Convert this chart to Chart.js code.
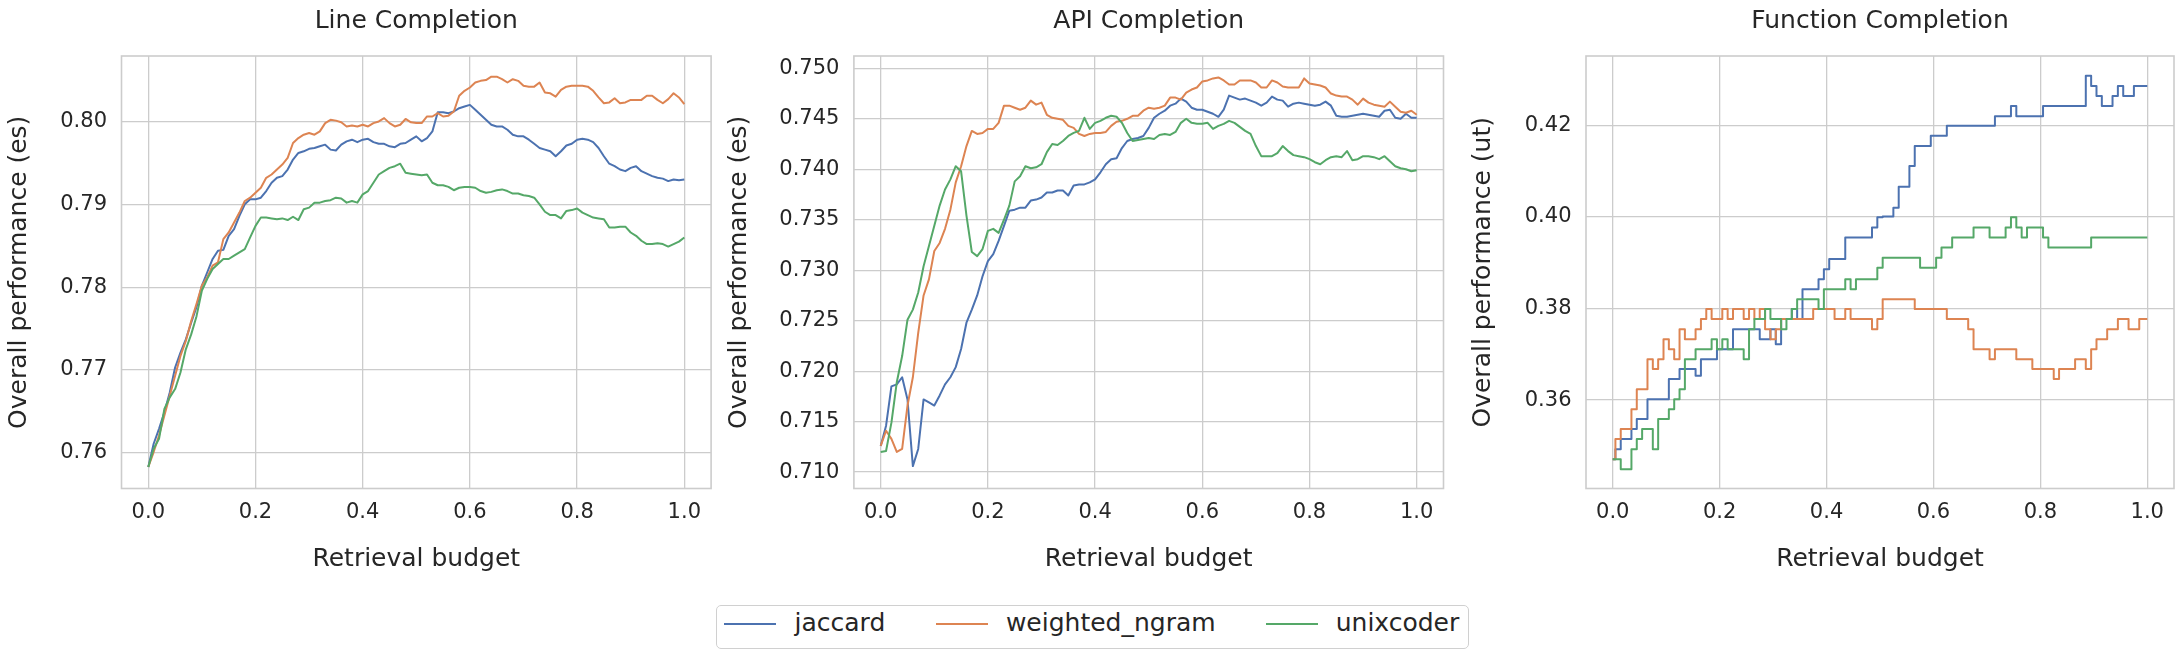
<!DOCTYPE html>
<html>
<head>
<meta charset="utf-8">
<title>Retrieval budget vs overall performance</title>
<script src="https://cdn.jsdelivr.net/npm/chart.js@4.4.1/dist/chart.umd.min.js"></script>
<style>
  html, body { margin: 0; padding: 0; background: #ffffff; }
  #figure { position: relative; width: 2184px; height: 659px; overflow: hidden; background: #ffffff; }
  #figure canvas { position: absolute; left: 0; top: 0; }
  #legend {
    position: absolute; left: 715.5px; top: 605px; width: 753px; height: 44px;
    box-sizing: border-box; border: 1px solid #d0d0d0; border-radius: 5px; background: #ffffff;
    font-family: 'DejaVu Sans', sans-serif; font-size: 25px; color: #262626;
  }
  #legend .swatch { position: absolute; top: 17px; width: 52px; height: 2px; }
  #legend .label { position: absolute; top: 2px; line-height: 30px; white-space: nowrap; }
</style>
</head>
<body>
<div id="figure">
  <canvas id="lineCanvas" width="2184" height="659"></canvas>
  <canvas id="apiCanvas" width="2184" height="659"></canvas>
  <canvas id="funcCanvas" width="2184" height="659"></canvas>
  <div id="legend"></div>
</div>
<script>
// Retrieval budget (x axis), one point every 0.01
var budget = [
  0.00, 0.01, 0.02, 0.03, 0.04, 0.05, 0.06, 0.07, 0.08, 0.09,
  0.10, 0.11, 0.12, 0.13, 0.14, 0.15, 0.16, 0.17, 0.18, 0.19,
  0.20, 0.21, 0.22, 0.23, 0.24, 0.25, 0.26, 0.27, 0.28, 0.29,
  0.30, 0.31, 0.32, 0.33, 0.34, 0.35, 0.36, 0.37, 0.38, 0.39,
  0.40, 0.41, 0.42, 0.43, 0.44, 0.45, 0.46, 0.47, 0.48, 0.49,
  0.50, 0.51, 0.52, 0.53, 0.54, 0.55, 0.56, 0.57, 0.58, 0.59,
  0.60, 0.61, 0.62, 0.63, 0.64, 0.65, 0.66, 0.67, 0.68, 0.69,
  0.70, 0.71, 0.72, 0.73, 0.74, 0.75, 0.76, 0.77, 0.78, 0.79,
  0.80, 0.81, 0.82, 0.83, 0.84, 0.85, 0.86, 0.87, 0.88, 0.89,
  0.90, 0.91, 0.92, 0.93, 0.94, 0.95, 0.96, 0.97, 0.98, 0.99,
  1.00
];

var methods = ["jaccard", "weighted_ngram", "unixcoder"];

// Line Completion (es)
var lineJaccard = [
  0.7583, 0.7611, 0.7629, 0.7649, 0.7673, 0.7703, 0.7721, 0.7737, 0.7757, 0.7776,
  0.7802, 0.7818, 0.7834, 0.7844, 0.7845, 0.7862, 0.7870, 0.7886, 0.7900, 0.7906,
  0.7906, 0.7908, 0.7916, 0.7926, 0.7932, 0.7934, 0.7942, 0.7954, 0.7962, 0.7964,
  0.7967, 0.7968, 0.7970, 0.7972, 0.7966, 0.7965, 0.7972, 0.7976, 0.7978, 0.7975,
  0.7978, 0.7979, 0.7975, 0.7973, 0.7973, 0.7970, 0.7969, 0.7973, 0.7974, 0.7978,
  0.7982, 0.7976, 0.7980, 0.7988, 0.8011, 0.8011, 0.8010, 0.8012, 0.8016, 0.8018,
  0.8020, 0.8014, 0.8008, 0.8002, 0.7996, 0.7994, 0.7994, 0.7990, 0.7984, 0.7982,
  0.7982, 0.7978, 0.7973, 0.7968, 0.7966, 0.7964, 0.7958, 0.7964, 0.7971, 0.7973,
  0.7978, 0.7979, 0.7978, 0.7975, 0.7968, 0.7958, 0.7949, 0.7946, 0.7942, 0.7940,
  0.7944, 0.7946, 0.7940, 0.7937, 0.7934, 0.7932, 0.7931, 0.7928, 0.7930, 0.7929,
  0.7930
];
var lineNgram = [
  0.7583, 0.7601, 0.7621, 0.7645, 0.7669, 0.7693, 0.7717, 0.7735, 0.7759, 0.7780,
  0.7802, 0.7812, 0.7826, 0.7830, 0.7858, 0.7866, 0.7878, 0.7890, 0.7904, 0.7908,
  0.7914, 0.7920, 0.7932, 0.7936, 0.7942, 0.7948, 0.7956, 0.7974, 0.7980, 0.7984,
  0.7986, 0.7984, 0.7988, 0.7998, 0.8002, 0.8001, 0.7999, 0.7994, 0.7995, 0.7994,
  0.7996, 0.7994, 0.7998, 0.8000, 0.8004, 0.7998, 0.7994, 0.7996, 0.8003, 0.7999,
  0.7998, 0.7998, 0.8006, 0.8006, 0.8010, 0.8006, 0.8007, 0.8012, 0.8031, 0.8037,
  0.8041, 0.8047, 0.8049, 0.8050, 0.8054, 0.8054, 0.8051, 0.8047, 0.8051, 0.8049,
  0.8043, 0.8042, 0.8042, 0.8047, 0.8035, 0.8034, 0.8030, 0.8038, 0.8042, 0.8043,
  0.8043, 0.8043, 0.8042, 0.8037, 0.8029, 0.8022, 0.8023, 0.8028, 0.8022, 0.8023,
  0.8026, 0.8026, 0.8026, 0.8031, 0.8031, 0.8026, 0.8022, 0.8027, 0.8034, 0.8029,
  0.8021
];
var lineUnix = [
  0.7583, 0.7605, 0.7617, 0.7653, 0.7667, 0.7677, 0.7697, 0.7725, 0.7743, 0.7765,
  0.7796, 0.7810, 0.7822, 0.7828, 0.7834, 0.7834, 0.7838, 0.7842, 0.7846, 0.7860,
  0.7874, 0.7884, 0.7884, 0.7883, 0.7882, 0.7883, 0.7881, 0.7885, 0.7881, 0.7894,
  0.7896, 0.7902, 0.7902, 0.7904, 0.7905, 0.7908, 0.7907, 0.7902, 0.7904, 0.7902,
  0.7912, 0.7916, 0.7926, 0.7936, 0.7940, 0.7944, 0.7946, 0.7949, 0.7938, 0.7937,
  0.7936, 0.7935, 0.7936, 0.7926, 0.7923, 0.7923, 0.7921, 0.7917, 0.7920, 0.7921,
  0.7921, 0.7920, 0.7916, 0.7914, 0.7915, 0.7917, 0.7918, 0.7916, 0.7913, 0.7913,
  0.7911, 0.7910, 0.7908, 0.7900, 0.7891, 0.7887, 0.7887, 0.7883, 0.7892, 0.7893,
  0.7895, 0.7890, 0.7887, 0.7884, 0.7883, 0.7882, 0.7872, 0.7872, 0.7873, 0.7873,
  0.7866, 0.7862, 0.7856, 0.7852, 0.7852, 0.7853, 0.7852, 0.7849, 0.7852, 0.7855,
  0.7860
];

// API Completion (es)
var apiJaccard = [
  0.7126, 0.7146, 0.7185, 0.7187, 0.7194, 0.7172, 0.7106, 0.7123, 0.7172, 0.7169,
  0.7166, 0.7176, 0.7187, 0.7194, 0.7204, 0.7222, 0.7248, 0.7261, 0.7275, 0.7294,
  0.7309, 0.7316, 0.7329, 0.7344, 0.7359, 0.7360, 0.7362, 0.7362, 0.7369, 0.7370,
  0.7372, 0.7377, 0.7377, 0.7379, 0.7379, 0.7374, 0.7384, 0.7385, 0.7385, 0.7387,
  0.7390, 0.7397, 0.7405, 0.7410, 0.7411, 0.7421, 0.7428, 0.7430, 0.7431, 0.7433,
  0.7441, 0.7451, 0.7455, 0.7458, 0.7463, 0.7465, 0.7470, 0.7467, 0.7461, 0.7459,
  0.7459, 0.7457, 0.7455, 0.7452, 0.7459, 0.7473, 0.7471, 0.7469, 0.7470, 0.7468,
  0.7466, 0.7463, 0.7466, 0.7472, 0.7469, 0.7468, 0.7462, 0.7465, 0.7466, 0.7465,
  0.7464, 0.7463, 0.7464, 0.7467, 0.7463, 0.7453, 0.7452, 0.7452, 0.7453, 0.7454,
  0.7455, 0.7454, 0.7453, 0.7452, 0.7458, 0.7459, 0.7451, 0.7450, 0.7455, 0.7451,
  0.7451
];
var apiNgram = [
  0.7126, 0.7141, 0.7133, 0.7120, 0.7123, 0.7166, 0.7194, 0.7238, 0.7275, 0.7291,
  0.7319, 0.7327, 0.7341, 0.7360, 0.7387, 0.7403, 0.7423, 0.7438, 0.7435, 0.7436,
  0.7440, 0.7440, 0.7446, 0.7463, 0.7463, 0.7461, 0.7459, 0.7461, 0.7468, 0.7464,
  0.7466, 0.7454, 0.7451, 0.7450, 0.7449, 0.7443, 0.7441, 0.7435, 0.7433, 0.7435,
  0.7436, 0.7436, 0.7437, 0.7443, 0.7447, 0.7448, 0.7450, 0.7453, 0.7453, 0.7458,
  0.7461, 0.7460, 0.7461, 0.7463, 0.7471, 0.7471, 0.7469, 0.7476, 0.7479, 0.7481,
  0.7487, 0.7488, 0.7490, 0.7491, 0.7488, 0.7484, 0.7484, 0.7488, 0.7488, 0.7488,
  0.7486, 0.7481, 0.7481, 0.7488, 0.7486, 0.7482, 0.7481, 0.7481, 0.7481, 0.7490,
  0.7485, 0.7484, 0.7483, 0.7481, 0.7475, 0.7473, 0.7472, 0.7472, 0.7469, 0.7464,
  0.7470, 0.7466, 0.7464, 0.7463, 0.7462, 0.7467, 0.7462, 0.7457, 0.7456, 0.7458,
  0.7454
];
var apiUnix = [
  0.7120, 0.7121, 0.7149, 0.7189, 0.7215, 0.7251, 0.7261, 0.7278, 0.7304, 0.7324,
  0.7344, 0.7364, 0.7380, 0.7390, 0.7403, 0.7398, 0.7354, 0.7318, 0.7314, 0.7321,
  0.7339, 0.7341, 0.7337, 0.7350, 0.7364, 0.7388, 0.7393, 0.7403, 0.7401, 0.7402,
  0.7405, 0.7417, 0.7425, 0.7424, 0.7428, 0.7433, 0.7436, 0.7438, 0.7451, 0.7440,
  0.7446, 0.7448, 0.7451, 0.7453, 0.7452, 0.7446, 0.7436, 0.7428, 0.7429, 0.7430,
  0.7431, 0.7430, 0.7434, 0.7435, 0.7434, 0.7437, 0.7446, 0.7450, 0.7446, 0.7445,
  0.7445, 0.7446, 0.7440, 0.7443, 0.7445, 0.7448, 0.7446, 0.7442, 0.7438, 0.7435,
  0.7423, 0.7413, 0.7413, 0.7413, 0.7416, 0.7423, 0.7418, 0.7414, 0.7413, 0.7412,
  0.7410, 0.7407, 0.7405, 0.7409, 0.7412, 0.7413, 0.7412, 0.7418, 0.7409, 0.7410,
  0.7413, 0.7413, 0.7412, 0.7410, 0.7413, 0.7408, 0.7403, 0.7401, 0.7400, 0.7398,
  0.7399
];

// Function Completion (ut)
var funcJaccard = [
  0.3471, 0.3493, 0.3515, 0.3515, 0.3537, 0.3559, 0.3559, 0.3602, 0.3602, 0.3602,
  0.3602, 0.3646, 0.3646, 0.3668, 0.3668, 0.3668, 0.3653, 0.3689, 0.3689, 0.3689,
  0.3711, 0.3711, 0.3711, 0.3755, 0.3755, 0.3755, 0.3755, 0.3755, 0.3733, 0.3733,
  0.3755, 0.3722, 0.3777, 0.3777, 0.3799, 0.3777, 0.3842, 0.3842, 0.3842, 0.3864,
  0.3886, 0.3908, 0.3908, 0.3908, 0.3955, 0.3955, 0.3955, 0.3955, 0.3955, 0.3977,
  0.3999, 0.4001, 0.4001, 0.4020, 0.4066, 0.4066, 0.4111, 0.4155, 0.4155, 0.4155,
  0.4177, 0.4177, 0.4177, 0.4199, 0.4199, 0.4199, 0.4199, 0.4199, 0.4199, 0.4199,
  0.4199, 0.4199, 0.4220, 0.4220, 0.4220, 0.4242, 0.4220, 0.4220, 0.4220, 0.4220,
  0.4220, 0.4242, 0.4242, 0.4242, 0.4242, 0.4242, 0.4242, 0.4242, 0.4242, 0.4308,
  0.4286, 0.4264, 0.4242, 0.4242, 0.4264, 0.4286, 0.4264, 0.4264, 0.4286, 0.4286,
  0.4286
];
var funcNgram = [
  0.3471, 0.3515, 0.3537, 0.3537, 0.3580, 0.3624, 0.3624, 0.3689, 0.3668, 0.3689,
  0.3733, 0.3711, 0.3689, 0.3755, 0.3733, 0.3733, 0.3755, 0.3777, 0.3799, 0.3777,
  0.3777, 0.3799, 0.3777, 0.3799, 0.3799, 0.3777, 0.3799, 0.3777, 0.3799, 0.3755,
  0.3733, 0.3755, 0.3777, 0.3777, 0.3777, 0.3777, 0.3777, 0.3777, 0.3799, 0.3799,
  0.3799, 0.3799, 0.3777, 0.3777, 0.3799, 0.3777, 0.3777, 0.3777, 0.3777, 0.3755,
  0.3777, 0.3820, 0.3820, 0.3820, 0.3820, 0.3820, 0.3820, 0.3799, 0.3799, 0.3799,
  0.3799, 0.3799, 0.3799, 0.3777, 0.3777, 0.3777, 0.3777, 0.3755, 0.3711, 0.3711,
  0.3711, 0.3689, 0.3711, 0.3711, 0.3711, 0.3711, 0.3689, 0.3689, 0.3689, 0.3668,
  0.3668, 0.3668, 0.3668, 0.3646, 0.3668, 0.3668, 0.3668, 0.3689, 0.3689, 0.3668,
  0.3711, 0.3733, 0.3733, 0.3755, 0.3755, 0.3777, 0.3777, 0.3755, 0.3755, 0.3777,
  0.3777
];
var funcUnix = [
  0.3471, 0.3471, 0.3449, 0.3449, 0.3493, 0.3515, 0.3537, 0.3537, 0.3493, 0.3559,
  0.3559, 0.3580, 0.3602, 0.3624, 0.3689, 0.3689, 0.3711, 0.3711, 0.3711, 0.3733,
  0.3711, 0.3733, 0.3711, 0.3711, 0.3711, 0.3689, 0.3755, 0.3777, 0.3777, 0.3799,
  0.3777, 0.3777, 0.3755, 0.3777, 0.3799, 0.3820, 0.3820, 0.3820, 0.3820, 0.3799,
  0.3842, 0.3842, 0.3842, 0.3842, 0.3864, 0.3842, 0.3864, 0.3864, 0.3864, 0.3864,
  0.3889, 0.3911, 0.3911, 0.3911, 0.3911, 0.3911, 0.3911, 0.3911, 0.3889, 0.3889,
  0.3889, 0.3911, 0.3933, 0.3933, 0.3955, 0.3955, 0.3955, 0.3955, 0.3977, 0.3977,
  0.3977, 0.3955, 0.3955, 0.3955, 0.3977, 0.3999, 0.3977, 0.3955, 0.3977, 0.3977,
  0.3977, 0.3955, 0.3933, 0.3933, 0.3933, 0.3933, 0.3933, 0.3933, 0.3933, 0.3933,
  0.3955, 0.3955, 0.3955, 0.3955, 0.3955, 0.3955, 0.3955, 0.3955, 0.3955, 0.3955,
  0.3955
];

// Tick values
var xTicks = [0.0, 0.2, 0.4, 0.6, 0.8, 1.0];
var lineTicks = [0.76, 0.77, 0.78, 0.79, 0.80];
var apiTicks = [0.710, 0.715, 0.720, 0.725, 0.730, 0.735, 0.740, 0.745, 0.750];
var funcTicks = [0.36, 0.38, 0.40, 0.42];

// Seaborn "deep" colours
var lineColors = ["#4C72B0", "#DD8452", "#55A868"];
var textColor = "#262626";
var gridColor = "#cccccc";

Chart.defaults.font.family = "'DejaVu Sans', 'Noto Sans', sans-serif";
Chart.defaults.color = textColor;

// Draws the four sides of the axes frame
var frameBox = {
  id: "frameBox",
  afterDraw: function (chart) {
    var a = chart.chartArea;
    var ctx = chart.ctx;
    ctx.save();
    ctx.strokeStyle = gridColor;
    ctx.lineWidth = 1.6;
    ctx.strokeRect(a.left, a.top, a.right - a.left, a.bottom - a.top);
    ctx.restore();
  },
};

function toPoints(values) {
  return values.map(function (v, i) {
    return { x: budget[i], y: v };
  });
}

// One subplot: cfg holds its title, data and where its axes box sits on the page
function makePanel(canvasId, cfg) {
  var chartTop = 56;
  var chartBottom = 488.5;
  var xAxisHeight = 100;
  var canvas = document.getElementById(canvasId);

  var datasets = cfg.series.map(function (values, i) {
    return {
      label: methods[i],
      data: toPoints(values),
      borderColor: lineColors[i],
      backgroundColor: lineColors[i],
      borderWidth: 2,
      pointRadius: 0,
      tension: 0,
      stepped: cfg.stepped,
      fill: false,
      order: 3 - i,
      borderJoinStyle: "round",
    };
  });

  return new Chart(canvas.getContext("2d"), {
    type: "line",
    data: { datasets: datasets },
    options: {
      responsive: false,
      animation: false,
      devicePixelRatio: 1,
      layout: {
        padding: {
          left: cfg.padLeft,
          right: 2184 - cfg.right,
          top: 0,
          bottom: 659 - chartBottom - xAxisHeight,
        },
      },
      plugins: {
        legend: { display: false },
        tooltip: { enabled: false },
        title: {
          display: true,
          text: cfg.title,
          fullSize: false,
          color: textColor,
          font: { size: 25, weight: "normal" },
          padding: { top: 6.6, bottom: chartTop - 30 - 6.6 },
        },
      },
      scales: {
        x: {
          type: "linear",
          min: -0.05,
          max: 1.05,
          afterBuildTicks: function (scale) {
            scale.ticks = xTicks.map(function (v) { return { value: v }; });
          },
          afterFit: function (scale) {
            scale.height = xAxisHeight;
          },
          grid: { color: gridColor, lineWidth: 1.3, drawTicks: false },
          border: { display: false },
          ticks: {
            font: { size: 21 },
            padding: 11,
            maxRotation: 0,
            autoSkip: false,
            callback: function (v) { return Number(v).toFixed(1); },
          },
          title: {
            display: true,
            text: "Retrieval budget",
            font: { size: 25 },
            padding: { top: 0, bottom: 14.5 },
          },
        },
        y: {
          type: "linear",
          min: cfg.yMin,
          max: cfg.yMax,
          afterBuildTicks: function (scale) {
            scale.ticks = cfg.yTicks.map(function (v) { return { value: v }; });
          },
          afterFit: function (scale) {
            scale.width = cfg.yWidth;
          },
          grid: { color: gridColor, lineWidth: 1.3, drawTicks: false },
          border: { display: false },
          ticks: {
            font: { size: 21 },
            padding: 14.5,
            autoSkip: false,
            callback: function (v) { return Number(v).toFixed(cfg.decimals); },
          },
          title: {
            display: true,
            text: cfg.yLabel,
            font: { size: 25 },
            padding: { top: 4, bottom: 0 },
          },
        },
      },
    },
    plugins: [frameBox],
  });
}

var lineChart = makePanel("lineCanvas", {
  title: "Line Completion",
  yLabel: "Overall performance (es)",
  series: [lineJaccard, lineNgram, lineUnix],
  yTicks: lineTicks, decimals: 2, yMin: 0.7557, yMax: 0.8079,
  padLeft: 0.3, yWidth: 121.2, right: 711.1, stepped: false,
});

var apiChart = makePanel("apiCanvas", {
  title: "API Completion",
  yLabel: "Overall performance (es)",
  series: [apiJaccard, apiNgram, apiUnix],
  yTicks: apiTicks, decimals: 3, yMin: 0.70838, yMax: 0.75122,
  padLeft: 720.6, yWidth: 133.3, right: 1443.5, stepped: false,
});

var funcChart = makePanel("funcCanvas", {
  title: "Function Completion",
  yLabel: "Overall performance (ut)",
  series: [funcJaccard, funcNgram, funcUnix],
  yTicks: funcTicks, decimals: 2, yMin: 0.34071, yMax: 0.43513,
  padLeft: 1464.5, yWidth: 121.5, right: 2174, stepped: "middle",
});

// Shared legend under the middle panel
var legend = document.getElementById("legend");
var swatchLeft = [7.3, 219.5, 549.3];
var labelLeft = [78, 289.4, 619.2];
methods.forEach(function (name, i) {
  var swatch = document.createElement("span");
  swatch.className = "swatch";
  swatch.style.left = swatchLeft[i] + "px";
  swatch.style.background = lineColors[i];
  legend.appendChild(swatch);

  var label = document.createElement("span");
  label.className = "label";
  label.style.left = labelLeft[i] + "px";
  label.textContent = name;
  legend.appendChild(label);
});
</script>
</body>
</html>
